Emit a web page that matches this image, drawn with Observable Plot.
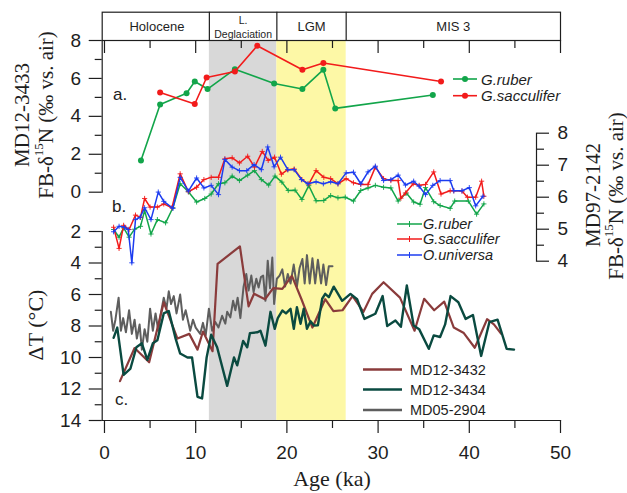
<!DOCTYPE html>
<html><head><meta charset="utf-8">
<script src="https://cdn.jsdelivr.net/npm/d3@7"></script>
<script src="https://cdn.jsdelivr.net/npm/@observablehq/plot@0.6"></script>
<style>
html,body{margin:0;padding:0;background:#fff;}
#chart{position:relative;width:627px;height:493px;overflow:hidden;}
#chart svg{position:absolute;left:0;top:0;}
</style></head>
<body><div id="chart"></div>
<script>
// ---------- data ----------
const periodNames = ["Holocene", "L.\nDeglaciation", "LGM", "MIS 3"];
const periodStart = [0, 11.5, 18.9, 26.5];
const periodEnd   = [11.5, 18.9, 26.5, 50];

// panel a: MD12-3433 FB-d15N
const aRuberAge = [4.0, 6.1, 9.0, 9.9, 11.3, 14.3, 18.6, 21.7, 24.0, 25.3, 36.0];
const aRuberVal = [1.67, 4.62, 5.22, 5.84, 5.44, 6.49, 5.73, 5.44, 6.46, 4.42, 5.13];
const aSaccAge  = [6.1, 9.9, 11.2, 14.3, 16.75, 21.7, 24.0, 36.9];
const aSaccVal  = [5.26, 4.65, 6.05, 6.37, 7.72, 6.46, 6.81, 5.84];

// panel b: MD97-2142 FB-d15N
const bRuberAge = [1.0,1.6,2.1,2.7,3.3,3.95,4.4,5.1,5.8,6.7,7.5,8.3,9.2,10.1,11.0,11.7,12.5,13.2,14.0,14.8,15.7,16.45,17.2,18.0,18.7,19.45,20.15,20.9,21.65,22.4,23.2,24.05,24.8,25.6,26.4,27.3,28.1,28.9,29.7,30.6,31.4,32.2,33.1,33.9,34.6,35.2,36.1,36.8,37.9,38.4,39.9,40.8,41.6];
const bRuberVal = [4.99,4.75,5.04,4.75,5.0,5.09,5.58,4.85,5.3,5.2,5.67,6.42,6.17,5.85,5.96,6.1,6.42,6.45,6.66,6.52,6.69,6.83,6.55,6.38,6.66,6.47,6.21,6.22,5.93,6.36,5.89,5.9,6.05,5.98,6.0,5.88,6.21,6.29,6.37,6.31,6.29,5.88,6.13,5.85,5.78,6.3,5.86,5.74,5.65,5.88,5.88,5.47,5.79];
const bSaccAge = [1.0,1.6,2.1,2.7,3.4,3.95,4.4,5.0,5.8,6.5,7.4,8.3,9.2,10.1,10.9,11.7,12.5,13.2,14.0,14.8,15.7,16.45,17.3,17.95,18.65,19.4,20.1,20.8,21.65,22.4,23.2,24.05,24.8,25.6,26.5,27.3,28.1,28.9,29.7,30.6,31.4,32.2,32.5,33.0,33.85,34.5,35.2,36.1,36.9,37.9,38.3,39.2,39.8,40.7,41.35,41.6];
const bSaccVal = [5.06,4.4,5.12,4.99,5.44,5.37,5.96,5.69,5.69,5.79,5.67,6.73,6.17,6.31,6.55,6.62,6.62,7.2,7.23,7.07,7.28,6.94,7.43,7.15,7.25,6.72,6.86,6.88,6.55,6.41,6.83,6.62,6.58,6.42,6.58,6.45,6.4,6.4,6.94,6.58,6.52,6.52,5.97,6.13,6.42,6.37,6.4,6.79,6.1,6.2,6.2,6.19,6.0,6.0,6.5,6.03];
const bUnivAge = [1.0,1.6,2.2,2.6,3.0,3.4,3.9,4.4,5.1,5.9,6.5,7.5,8.3,9.2,10.1,10.9,11.7,12.5,13.2,14.0,14.8,15.6,16.4,17.2,17.9,18.6,19.3,20.1,20.8,21.6,22.3,23.2,24.0,24.8,25.6,26.5,27.3,28.1,28.9,29.7,30.6,31.4,32.2,33.0,33.9,34.5,35.2,36.0,36.8,37.9,38.3,39.2,40.0,40.7,41.5];
const bUnivVal = [4.92,5.09,5.06,4.99,3.95,5.3,5.37,5.67,5.3,6.16,5.87,5.65,6.62,6.19,6.6,6.29,6.37,6.08,7.18,6.94,6.83,6.83,7.02,6.86,7.57,6.95,7.25,6.86,6.86,6.55,6.42,6.48,6.42,6.48,6.42,6.76,6.78,6.42,6.79,6.97,6.52,6.55,6.69,6.38,6.5,6.34,6.08,6.37,6.52,6.52,6.2,6.2,6.3,5.73,6.03];

// panel c: Delta T
const c3432Age = [1.7,3.3,4.9,6.5,8.0,9.3,10.2,10.8,11.85,12.4,14.85,15.8,16.4,17.6,18.5,19.5,20.55,21.6,22.8,24.2,25.1,26.1,27.2,28.4,29.35,30.6,32.4,34.0,35.05,36.15,37.25,38.3,39.4,40.6,41.95,42.7,43.5];
const c3432Val = [11.5,9.4,10.3,6.5,8.8,8.5,9.5,8.35,9.6,4.05,2.95,6.75,5.95,6.3,5.6,5.64,4.82,6.3,8.1,6.3,7.05,7.0,6.1,7.1,5.96,5.22,6.2,8.3,6.27,7.0,6.45,8.1,8.45,9.38,7.57,7.9,8.5];
const c3434Age = [1.0,1.4,2.1,2.85,3.5,4.1,4.7,5.3,5.8,6.5,7.05,7.8,8.3,9.1,9.6,10.2,10.7,11.2,11.7,12.35,13.45,14.2,14.55,15.2,15.65,15.95,16.75,17.1,17.65,18.2,18.67,19.0,19.5,19.9,20.4,20.76,21.1,21.5,21.85,22.2,22.6,22.95,23.4,23.87,24.2,24.6,25.14,26.06,26.97,27.7,28.5,29.7,30.5,31.0,31.9,32.5,33.15,33.9,34.5,35.56,36.1,36.8,37.35,37.95,38.8,39.6,40.4,41.3,42.2,43.1,44.1,44.9];
const c3434Val = [8.75,8.1,11.1,10.7,9.35,9.1,10.15,9.1,8.9,7.2,7.05,8.8,9.75,10.0,10.0,12.5,12.6,10.0,8.55,9.35,11.8,10.0,10.5,8.95,9.35,8.45,8.4,8.3,9.25,7.1,8.18,7.5,7.02,7.2,6.91,8.18,6.81,7.86,6.91,8.18,7.7,7.97,7.95,6.27,5.96,6.17,5.5,6.4,5.96,6.3,7.55,7.22,6.1,8.0,7.65,8.05,5.43,7.97,8.2,9.45,8.6,8.7,7.9,6.1,6.49,7.55,7.3,9.9,7.76,7.6,9.45,9.5];
const c2904Age = [0.7,0.95,1.2,1.55,1.8,2.05,2.35,2.7,3.0,3.3,3.55,3.85,4.1,4.4,4.7,5.0,5.3,5.6,5.9,6.15,6.5,6.8,7.05,7.3,7.6,7.9,8.3,8.6,8.9,9.4,9.7,10.0,10.5,10.8,11.1,11.45,11.8,12.15,12.5,12.9,13.25,13.45,13.8,14.1,14.35,14.6,14.9,15.25,15.55,15.8,16.1,16.35,16.65,16.9,17.15,17.4,17.65,17.9,18.15,18.4,18.6,18.9,19.2,19.5,19.8,20.1,20.4,20.75,21.1,21.4,21.7,21.95,22.2,22.5,22.8,23.1,23.4,23.75,24.0,24.3,24.6,25.0];
const c2904Val = [7.1,8.3,7.6,6.2,8.3,7.5,8.4,7.0,8.5,7.6,8.8,7.9,9.5,8.2,9.0,6.9,8.3,7.2,8.3,7.3,6.2,6.9,5.8,6.6,6.1,7.2,6.0,7.6,7.0,8.3,7.6,8.1,8.5,7.8,8.6,6.9,8.3,7.75,8.1,7.35,7.85,7.1,7.45,6.4,7.0,6.2,7.5,5.5,4.7,5.75,4.8,5.85,5.0,5.55,4.9,4.8,6.4,3.85,5.6,3.65,6.6,5.0,4.8,4.4,5.5,4.7,5.3,4.1,5.5,4.3,3.75,5.3,3.5,5.3,3.7,5.3,3.8,5.3,4.1,5.4,4.2,4.2];

const xMajor = [0, 10, 20, 30, 40, 50];
const xMinor = [5, 15, 25, 35, 45];
const aMajor = [0, 2, 4, 6, 8], aMinor = [1, 3, 5, 7];
const bMajor = [4, 5, 6, 7, 8], bMinor = [4.5, 5.5, 6.5, 7.5];
const cMajor = [2, 4, 6, 8, 10, 12, 14], cMinor = [3, 5, 7, 9, 11, 13];

// ---------- styling ----------
const GREEN = "#12a54a", RED = "#f21b1b", BLUE = "#1c3cf0";
const BROWN = "#8a3b3b", TEAL = "#0a4a40", GREY = "#5e5e5e";
const GREYBAND = "#d8d8d8", YELLOWBAND = "#fdf8a6";
const INK = "#1e1e1e";
const SANS = '"Liberation Sans", Arial, sans-serif';
const SERIF = '"Liberation Serif", "Times New Roman", serif';

const W = 627, H = 493, ML = 101.7, MR = 67, XD = [-0.25, 50];
const rows = (ages, vals) => ages.map((a, i) => ({age: a, v: vals[i]}));
const periods = periodNames.map((n, i) => ({name: n, start: periodStart[i], end: periodEnd[i], mid: (periodStart[i] + periodEnd[i]) / 2}));
const intFmt = d => String(d);

function layer(opts) {
  return Plot.plot(Object.assign({
    width: W, height: H, marginLeft: ML, marginRight: MR,
    x: {domain: XD, axis: null},
    style: {background: "transparent", overflow: "visible", fontFamily: SANS, fontSize: "19px", color: INK}
  }, opts));
}
const chart = document.getElementById("chart");

// shaded periods
chart.append(layer({
  marginTop: 40, marginBottom: H - 420,
  marks: [
    Plot.rect(periods.filter(d => d.start === 11.5), {x1: "start", x2: "end", fill: GREYBAND}),
    Plot.rect(periods.filter(d => d.start === 18.9), {x1: "start", x2: "end", fill: YELLOWBAND})
  ]
}));

// header band with period names and top axis
chart.append(layer({
  marginTop: 11.7, marginBottom: H - 40,
  marks: [
    Plot.frame({stroke: INK, strokeWidth: 1.2}),
    Plot.ruleX(periods.slice(1), {x: "start", stroke: INK, strokeWidth: 1.2}),
    Plot.text(periods.filter(d => d.start !== 11.5), {x: "mid", text: "name", frameAnchor: "middle", fontSize: 13, fill: INK}),
    Plot.text(periods.filter(d => d.start === 11.5), {x: "mid", text: "name", frameAnchor: "middle", fontSize: 10.5, lineHeight: 1.3, fill: INK}),
    Plot.axisX({anchor: "bottom", ticks: xMajor, tickSize: 13, tickFormat: () => "", label: null, strokeWidth: 1.2}),
    Plot.axisX({anchor: "bottom", ticks: xMinor, tickSize: 8, tickFormat: () => "", label: null, strokeWidth: 1.2})
  ]
}));

// panel a
const aRuber = rows(aRuberAge, aRuberVal), aSacc = rows(aSaccAge, aSaccVal);
chart.append(layer({
  marginTop: 40, marginBottom: H - 191.7,
  y: {domain: [0, 8], axis: null},
  marks: [
    Plot.frame({anchor: "left", stroke: INK, strokeWidth: 1.2}),
    Plot.axisY({ticks: aMajor, tickSize: 13, tickPadding: 8, tickFormat: intFmt, label: null, strokeWidth: 1.2}),
    Plot.axisY({ticks: aMinor, tickSize: 7, tickFormat: () => "", label: null, strokeWidth: 1.2}),
    Plot.line(aRuber, {x: "age", y: "v", stroke: GREEN, strokeWidth: 1.6}),
    Plot.dot(aRuber, {x: "age", y: "v", fill: GREEN, r: 3}),
    Plot.line(aSacc, {x: "age", y: "v", stroke: RED, strokeWidth: 1.6}),
    Plot.dot(aSacc, {x: "age", y: "v", fill: RED, r: 3})
  ]
}));

// panel b data
const bSeries = [[rows(bRuberAge, bRuberVal), GREEN], [rows(bSaccAge, bSaccVal), RED], [rows(bUnivAge, bUnivVal), BLUE]];
chart.append(layer({
  marginTop: 132.7, marginBottom: H - 260.7,
  y: {domain: [4, 8], axis: null},
  marks: bSeries.flatMap(([d, c]) => [
    Plot.line(d, {x: "age", y: "v", stroke: c, strokeWidth: 1.5}),
    Plot.dot(d, {x: "age", y: "v", symbol: "plus", r: 1.8, stroke: c, strokeWidth: 0.9})
  ])
}));
// panel b right axis
chart.append(Plot.plot({
  width: W, height: H, marginLeft: 400, marginRight: W - 536,
  marginTop: 132.7, marginBottom: H - 260.7,
  y: {domain: [4, 8], axis: null},
  style: {background: "transparent", overflow: "visible", fontFamily: SANS, fontSize: "19px", color: INK},
  marks: [
    Plot.frame({anchor: "right", stroke: INK, strokeWidth: 1.2}),
    Plot.axisY({anchor: "right", ticks: bMajor, tickSize: 12, tickPadding: 9, tickFormat: intFmt, label: null, strokeWidth: 1.2}),
    Plot.axisY({anchor: "right", ticks: bMinor, tickSize: 7, tickFormat: () => "", label: null, strokeWidth: 1.2})
  ]
}));

// panel c
chart.append(layer({
  marginTop: 231, marginBottom: H - 420,
  x: {domain: XD, axis: null},
  y: {domain: [2, 14], reverse: true, axis: null},
  marks: [
    Plot.frame({anchor: "left", stroke: INK, strokeWidth: 1.2}),
    Plot.frame({anchor: "bottom", stroke: INK, strokeWidth: 1.2}),
    Plot.axisY({ticks: cMajor, tickSize: 13, tickPadding: 8, tickFormat: intFmt, label: null, strokeWidth: 1.2}),
    Plot.axisY({ticks: cMinor, tickSize: 7, tickFormat: () => "", label: null, strokeWidth: 1.2}),
    Plot.axisX({anchor: "bottom", ticks: xMajor, tickSize: 13, tickPadding: 12, tickFormat: intFmt, label: null, strokeWidth: 1.2}),
    Plot.axisX({anchor: "bottom", ticks: xMinor, tickSize: 8, tickFormat: () => "", label: null, strokeWidth: 1.2}),
    Plot.line(rows(c2904Age, c2904Val), {x: "age", y: "v", stroke: GREY, strokeWidth: 2}),
    Plot.line(rows(c3432Age, c3432Val), {x: "age", y: "v", stroke: BROWN, strokeWidth: 2.2}),
    Plot.line(rows(c3434Age, c3434Val), {x: "age", y: "v", stroke: TEAL, strokeWidth: 2.4})
  ]
}));

// ---------- annotations: titles, legends, panel labels ----------
const ov = d3.create("svg").attr("width", W).attr("height", H).style("overflow", "visible");
function vtitle(cx, cy, size, build) {
  const t = ov.append("text").attr("transform", `translate(${cx},${cy}) rotate(-90)`)
    .attr("text-anchor", "middle").attr("dominant-baseline", "central")
    .attr("font-family", SERIF).attr("font-size", size).attr("fill", INK);
  build(t);
}
function d15N(t) {
  t.append("tspan").text("FB-δ");
  t.append("tspan").attr("font-size", 13).attr("dy", -8).text("15");
  t.append("tspan").attr("dy", 8).text("N (‰ vs. air)");
}
vtitle(22, 115, 21, t => t.text("MD12-3433"));
vtitle(46, 115, 21, d15N);
vtitle(35, 325, 22, t => t.text("ΔT (°C)"));
vtitle(593, 195, 21, t => t.text("MD97-2142"));
vtitle(616, 196, 21, d15N);
ov.append("text").attr("x", 332).attr("y", 478).attr("text-anchor", "middle").attr("dominant-baseline", "central")
  .attr("font-family", SERIF).attr("font-size", 22).attr("fill", INK).text("Age (ka)");

// panel labels
[["a.", 113, 100], ["b.", 112, 212], ["c.", 115, 405]].forEach(([s, x, y]) =>
  ov.append("text").attr("x", x).attr("y", y).attr("font-family", SANS).attr("font-size", 17).attr("fill", INK).text(s));

// legend a
[["G.ruber", GREEN, 79], ["G.sacculifer", RED, 95.7]].forEach(([s, c, y]) => {
  ov.append("line").attr("x1", 453).attr("x2", 477).attr("y1", y).attr("y2", y).attr("stroke", c).attr("stroke-width", 1.6);
  ov.append("circle").attr("cx", 465).attr("cy", y).attr("r", 3).attr("fill", c);
  ov.append("text").attr("x", 481).attr("y", y).attr("dominant-baseline", "central").attr("font-family", SANS)
    .attr("font-style", "italic").attr("font-size", 15).attr("fill", INK).text(s);
});
// legend b
[["G.ruber", GREEN, 224], ["G.sacculifer", RED, 239], ["O.universa", BLUE, 255]].forEach(([s, c, y]) => {
  ov.append("line").attr("x1", 397).attr("x2", 422).attr("y1", y).attr("y2", y).attr("stroke", c).attr("stroke-width", 1.5);
  ov.append("line").attr("x1", 409.5).attr("x2", 409.5).attr("y1", y - 3).attr("y2", y + 3).attr("stroke", c).attr("stroke-width", 1);
  ov.append("text").attr("x", 423).attr("y", y).attr("dominant-baseline", "central").attr("font-family", SANS)
    .attr("font-style", "italic").attr("font-size", 14.5).attr("fill", INK).text(s);
});
// legend c
[["MD12-3432", BROWN, 369.5], ["MD12-3434", TEAL, 389.5], ["MD05-2904", GREY, 410]].forEach(([s, c, y]) => {
  ov.append("line").attr("x1", 363).attr("x2", 402).attr("y1", y).attr("y2", y).attr("stroke", c).attr("stroke-width", 2.4);
  ov.append("text").attr("x", 410).attr("y", y).attr("dominant-baseline", "central").attr("font-family", SANS)
    .attr("font-size", 14.5).attr("fill", INK).text(s);
});
chart.append(ov.node());
</script>
</body></html>
